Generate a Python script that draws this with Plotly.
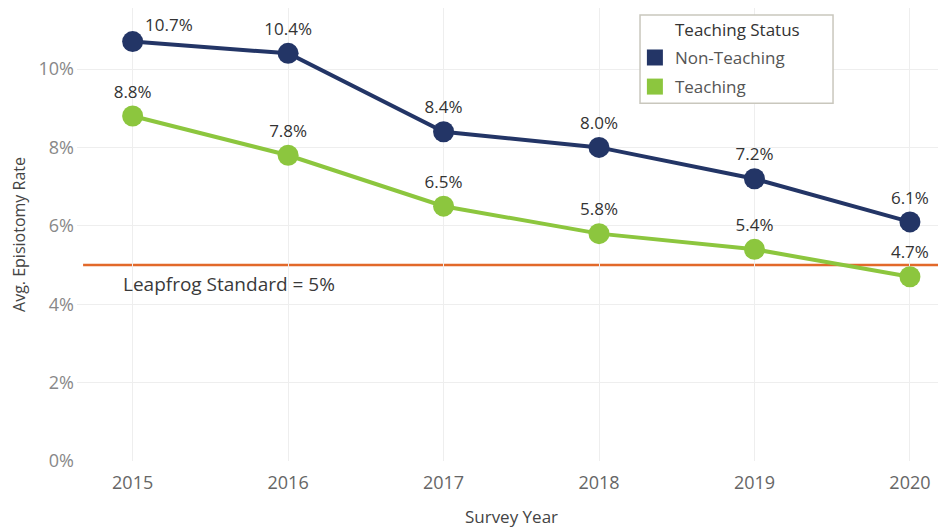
import plotly.graph_objects as go

years = [2015, 2016, 2017, 2018, 2019, 2020]
non_teaching = [10.7, 10.4, 8.4, 8.0, 7.2, 6.1]
teaching = [8.8, 7.8, 6.5, 5.8, 5.4, 4.7]
y_ticks = [0, 2, 4, 6, 8, 10]
y_tick_labels = ["0%", "2%", "4%", "6%", "8%", "10%"]
standard = 5
standard_label = "Leapfrog Standard = 5%"
legend_title = "Teaching Status"

NAVY = "#233566"
GREEN = "#8cc63e"
ORANGE = "#e2692a"
FONT = "Open Sans"

fig = go.Figure()

nt_text = [f"{v:.1f}%" for v in non_teaching]
nt_text_trace = [""] + nt_text[1:]
fig.add_trace(go.Scatter(
    x=years, y=non_teaching, mode="lines+markers+text",
    line=dict(color=NAVY, width=4), marker=dict(color=NAVY, size=21),
    text=nt_text_trace, textposition="top center",
    textfont=dict(size=17, color="#333333", family=FONT),
    showlegend=False, cliponaxis=False))
fig.add_trace(go.Scatter(
    x=years, y=teaching, mode="lines+markers+text",
    line=dict(color=GREEN, width=4), marker=dict(color=GREEN, size=21),
    text=[f"{v:.1f}%" for v in teaching], textposition="top center",
    textfont=dict(size=17, color="#333333", family=FONT),
    showlegend=False, cliponaxis=False))

# first Non-Teaching label sits to the upper right of its marker
fig.add_annotation(x=years[0], y=non_teaching[0], xref="x", yref="y", text=nt_text[0],
                   showarrow=False, xanchor="left", yanchor="middle", xshift=10, yshift=17,
                   font=dict(size=17, color="#333333", family=FONT))

for i, (name, col) in enumerate([("Non-Teaching", NAVY), ("Teaching", GREEN)]):
    fig.add_trace(go.Scatter(x=[None], y=[None], mode="markers", name=name,
                             legendgroup=f"g{i}",
                             marker=dict(symbol="square", size=20, color=col)))

fig.add_shape(type="line", xref="paper", yref="y", x0=0.007, x1=1, y0=standard, y1=standard,
              line=dict(color=ORANGE, width=2.5), layer="below")
fig.add_annotation(x=0.0505, y=standard, xref="paper", yref="y", text=standard_label,
                   showarrow=False, xanchor="left", yanchor="top", yshift=-4,
                   font=dict(size=19, color="#3a3a3a", family=FONT))

# legend frame and title
fig.add_shape(type="rect", xref="paper", yref="paper", x0=0.6479, x1=0.870, y0=0.790, y1=0.9845,
              line=dict(color="#c9c7bd", width=1.5), fillcolor="white", layer="above")
fig.add_annotation(x=0.7595, y=0.9536, xref="paper", yref="paper", text=legend_title,
                   showarrow=False, xanchor="center", yanchor="middle",
                   font=dict(size=17, color="#333333", family=FONT))

fig.update_layout(
    width=946, height=527,
    margin=dict(l=69, r=8, t=0, b=74),
    paper_bgcolor="white", plot_bgcolor="white",
    font=dict(family=FONT, color="#555555"),
    xaxis=dict(range=[2014.642, 2020.232], tickvals=years, ticktext=[str(y) for y in years],
               showgrid=True, gridcolor="#eeeeee", zeroline=False, showline=False,
               automargin=False,
               tickfont=dict(size=18, color="#666666"), ticks="", ticklabelstandoff=9,
               title=dict(text="Survey Year", font=dict(size=17, color="#444444"), standoff=18)),
    yaxis=dict(range=[0, 11.556], tickvals=y_ticks, ticktext=y_tick_labels,
               showgrid=True, gridcolor="#eeeeee", zeroline=False, showline=False,
               automargin=False,
               tickfont=dict(size=18, color="#888888"), ticks="", ticklabelstandoff=2,
               title=dict(text="Avg. Episiotomy Rate", font=dict(size=16, color="#444444"), standoff=14)),
    legend=dict(x=0.642, y=0.9295, xanchor="left", yanchor="top",
                bgcolor="rgba(0,0,0,0)", borderwidth=0,
                font=dict(size=17, color="#555555", family=FONT),
                itemsizing="trace", tracegroupgap=4),
)

fig.write_html("out.html")
